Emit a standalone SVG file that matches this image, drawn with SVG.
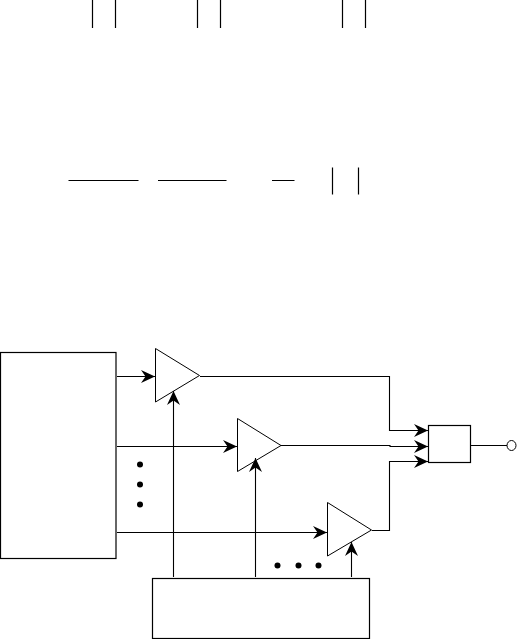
<svg xmlns="http://www.w3.org/2000/svg" width="518" height="639" viewBox="0 0 518 639">
<style>
.s{fill:none;stroke:#000;stroke-width:1.2}
.t{fill:#fff;stroke:#000;stroke-width:1}
.w{fill:none;stroke:#000;stroke-width:1.1}
.d{fill:#000;stroke:none}
</style>
<defs>
<marker id="a" markerUnits="userSpaceOnUse" markerWidth="16" markerHeight="16" viewBox="-14 -8 16 16" refX="0" refY="0" orient="auto">
<path d="M0 0L-14-6.5L-9.5 0L-14 6.5Z" fill="#000"/>
</marker>
</defs>
<rect width="518" height="639" fill="#fff"/>
<g id="top-marks">
<path class="s" d="M92.5 0V28M115.5 0V28M197.5 0V28M220.5 0V28M342.5 0V28M365.5 0V28"/>
<path class="s" d="M68.5 180.5H138.5M158 180.5H226.5M272 180.5H294.5M332.5 167.5V194.5M358.5 167.5V194.5"/>
</g>
<g id="source-block"><rect class="s" x="0.5" y="352.5" width="115.5" height="206"/></g>
<g id="control-block"><rect class="s" x="152.5" y="578.5" width="217" height="60"/></g>
<g id="amp-1"><path class="t" d="M155.5 348.5L199.5 375.5L155.5 402Z"/></g>
<g id="amp-2"><path class="t" d="M237.5 418.5L281 445.5L237.5 471.5Z"/></g>
<g id="amp-3"><path class="t" d="M327.5 502.5L371.5 530L327.5 556Z"/></g>
<g id="combiner"><rect class="s" x="428.5" y="425.5" width="42" height="37"/></g>
<g id="output"><ellipse class="t" cx="511.5" cy="445.5" rx="4.5" ry="5"/></g>
<g id="dots">
<circle class="d" cx="140" cy="464.5" r="3"/><circle class="d" cx="140" cy="484.5" r="3"/><circle class="d" cx="140" cy="504.5" r="3"/>
<circle class="d" cx="277.5" cy="565.5" r="3"/><circle class="d" cx="298.5" cy="565.5" r="3"/><circle class="d" cx="318.5" cy="565.5" r="3"/>
</g>
<g id="connectors">
<path class="w" marker-end="url(#a)" d="M117 376.5H155"/>
<path class="w" marker-end="url(#a)" d="M117 446.5H237"/>
<path class="w" marker-end="url(#a)" d="M117 532.5H327"/>
<path class="w" marker-end="url(#a)" d="M173.5 577V391"/>
<path class="w" marker-end="url(#a)" d="M255.5 577V458"/>
<path class="w" marker-end="url(#a)" d="M351.5 577V542"/>
<path class="w" marker-end="url(#a)" d="M200 376.5H389.5V430.5H428"/>
<path class="w" marker-end="url(#a)" d="M281 445.5H390V446.5H428"/>
<path class="w" marker-end="url(#a)" d="M372 530.5H389.5V461.5H428"/>
<path class="w" d="M470.5 445.5H507"/>
</g>
</svg>
